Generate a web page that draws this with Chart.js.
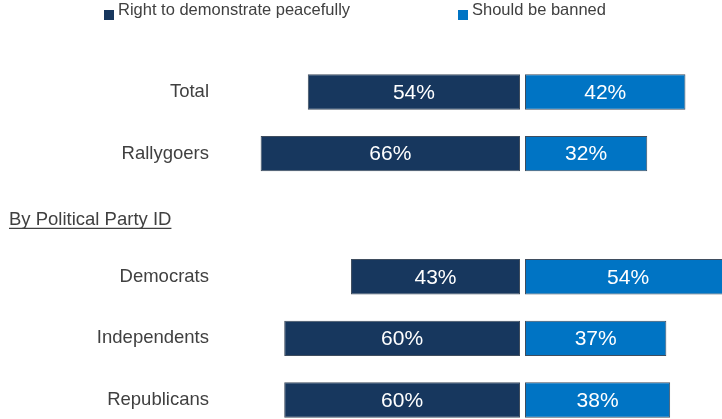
<!DOCTYPE html>
<html>
<head>
<meta charset="utf-8">
<script src="https://cdn.jsdelivr.net/npm/chart.js@4.4.1/dist/chart.umd.min.js"></script>
<style>
  html, body { margin: 0; padding: 0; background: #ffffff; }
  #wrap { position: relative; width: 722px; height: 419px; }
</style>
</head>
<body>
<div id="wrap"><canvas id="chart"></canvas></div>
<script>
// Rows of the chart; one row is a section heading with no bars
const categories = ['Total', 'Rallygoers', 'By Political Party ID', 'Democrats', 'Independents', 'Republicans'];
const headingRow = 2;

// Share of respondents (%)
const seriesNames = ['Right to demonstrate peacefully', 'Should be banned'];
const rightToDemonstrate = [54, 66, null, 43, 60, 60];
const shouldBeBanned = [42, 32, null, 54, 37, 38];

const NAVY = '#17375E';
const BLUE = '#0074C4';
const EDGE = '#3f4d5e';
const TEXT = '#404040';
const FONT = "'Liberation Sans', Arial, sans-serif";

// Custom legend across the top
const topLegend = {
  id: 'topLegend',
  afterDraw(chart) {
    const ctx = chart.ctx;
    const xs = [104, 458];
    ctx.save();
    ctx.font = '16.5px ' + FONT;
    ctx.textBaseline = 'alphabetic';
    ctx.textAlign = 'left';
    chart.data.datasets.forEach((ds, i) => {
      ctx.fillStyle = ds.backgroundColor;
      ctx.fillRect(xs[i], 10, 10, 10);
      ctx.fillStyle = TEXT;
      ctx.fillText(ds.label, xs[i] + 14, 15);
    });
    ctx.restore();
  }
};

// Underlined section heading placed on its category row
const sectionHeading = {
  id: 'sectionHeading',
  afterDraw(chart) {
    const ctx = chart.ctx;
    const y = chart.scales.y.getPixelForValue(headingRow) + 9.7;
    const text = categories[headingRow];
    ctx.save();
    ctx.font = '18.5px ' + FONT;
    ctx.fillStyle = TEXT;
    ctx.textAlign = 'left';
    ctx.textBaseline = 'alphabetic';
    ctx.fillText(text, 9, y);
    const w = ctx.measureText(text).width;
    ctx.strokeStyle = TEXT;
    ctx.lineWidth = 1.2;
    ctx.beginPath();
    ctx.moveTo(9, y + 3.5);
    ctx.lineTo(9 + w, y + 3.5);
    ctx.stroke();
    ctx.restore();
  }
};

// Percent labels in the middle of each bar
const barLabels = {
  id: 'barLabels',
  afterDatasetsDraw(chart) {
    const ctx = chart.ctx;
    ctx.save();
    ctx.font = '21px ' + FONT;
    ctx.fillStyle = '#ffffff';
    ctx.textAlign = 'center';
    ctx.textBaseline = 'middle';
    chart.data.datasets.forEach((ds, di) => {
      const meta = chart.getDatasetMeta(di);
      meta.data.forEach((bar, i) => {
        const v = ds.sourceValues[i];
        if (v === null || v === undefined) return;
        ctx.fillText(v + '%', (bar.x + bar.base) / 2, bar.y + 1);
      });
    });
    ctx.restore();
  }
};

new Chart(document.getElementById('chart'), {
  type: 'bar',
  data: {
    labels: categories,
    datasets: [
      {
        label: seriesNames[0],
        sourceValues: rightToDemonstrate,
        data: rightToDemonstrate.map(v => v === null ? null : -v),
        xAxisID: 'xL',
        backgroundColor: NAVY,
        borderColor: EDGE,
        borderWidth: 1,
        borderSkipped: false,
        grouped: false,
        clip: false
      },
      {
        label: seriesNames[1],
        sourceValues: shouldBeBanned,
        data: shouldBeBanned,
        xAxisID: 'xR',
        backgroundColor: BLUE,
        borderColor: EDGE,
        borderWidth: 1,
        borderSkipped: false,
        grouped: false,
        clip: false
      }
    ]
  },
  options: {
    indexAxis: 'y',
    responsive: true,
    maintainAspectRatio: false,
    animation: false,
    layout: { padding: { top: 92, bottom: 19, left: 0, right: 0 } },
    categoryPercentage: 1,
    barPercentage: 0.575,
    scales: {
      y: {
        type: 'category',
        offset: false,
        grid: { display: false, drawTicks: false },
        border: { display: false },
        afterFit(scale) {
          scale.width = 220;
          scale.paddingTop = 0;
          scale.paddingBottom = 0;
        },
        ticks: {
          padding: 11,
          color: TEXT,
          font: { family: FONT, size: 18.5 },
          callback(value, index) { return index === headingRow ? '' : categories[index]; }
        }
      },
      xL: {
        type: 'linear',
        display: false,
        min: -76.34,
        max: 51.40
      },
      xR: {
        type: 'linear',
        display: false,
        min: -79.84,
        max: 51.57
      }
    },
    plugins: {
      legend: { display: false },
      tooltip: { enabled: false }
    }
  },
  plugins: [topLegend, sectionHeading, barLabels]
});
</script>
</body>
</html>
